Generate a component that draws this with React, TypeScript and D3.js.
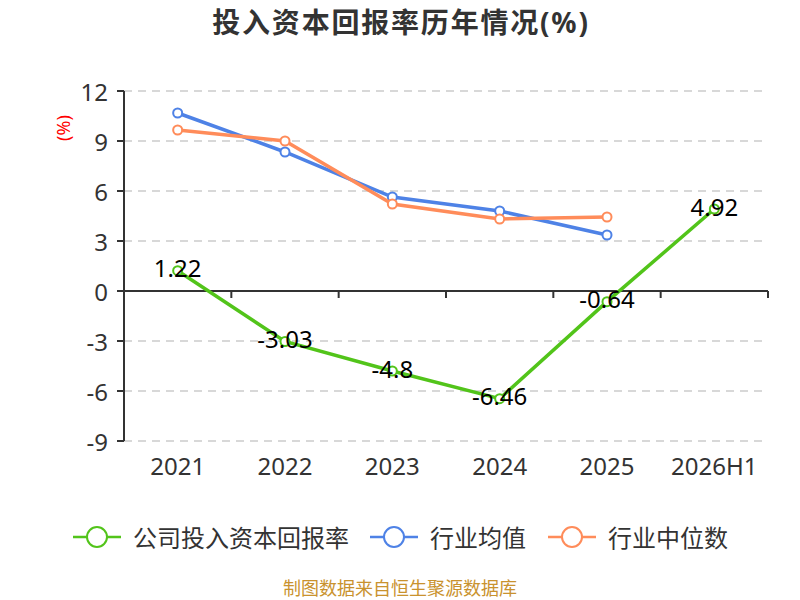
import React from 'react';
import * as d3 from 'd3';

const categories = ['2021', '2022', '2023', '2024', '2025', '2026H1'];
const companyRoic = [1.22, -3.03, -4.8, -6.46, -0.64, 4.92];
const industryAvg = [10.68, 8.34, 5.64, 4.8, 3.36];
const industryMedian = [9.66, 9.0, 5.22, 4.32, 4.44];
const yTicks = [12, 9, 6, 3, 0, -3, -6, -9];

const series = [
  { name: '公司投入资本回报率', color: '#52c41a', values: companyRoic, labels: true },
  { name: '行业均值', color: '#4e82e6', values: industryAvg, labels: false },
  { name: '行业中位数', color: '#ff8c5a', values: industryMedian, labels: false },
];

const FONT = '"Noto Sans", "Noto Sans CJK SC", sans-serif';

const App: React.FC = () => {
  const [w, h] = [800, 600];
  const margin = { top: 91, right: 32, bottom: 159, left: 124 };
  const x = d3.scaleBand<string>().domain(categories).range([margin.left, w - margin.right]);
  const y = d3.scaleLinear().domain([-9, 12]).range([h - margin.bottom, margin.top]);
  const cx = (c: string) => (x(c) as number) + x.bandwidth() / 2;
  const line = d3.line<number>().x((_, i) => cx(categories[i])).y(d => y(d));
  const bounds = [...categories.map(c => x(c) as number), w - margin.right];
  const legendX = [73, 370, 548];

  return (
    <div style={{ position: 'absolute', left: 0, top: 0 }}>
      <svg width={w} height={h} viewBox={`0 0 ${w} ${h}`} style={{ display: 'block', fontFamily: FONT }}>
        <rect width={w} height={h} fill="#fff" />
        <text x={401} y={22} textAnchor="middle" dominantBaseline="central" fontSize={28} fontWeight="bold" fill="#333" letterSpacing={1.8}>
          投入资本回报率历年情况(%)
        </text>
        <text transform={`translate(63,128) rotate(-90)`} textAnchor="middle" dominantBaseline="central" fontSize={18} fill="#ff0000">
          (%)
        </text>

        {yTicks.filter(t => t !== 0).map(t => (
          <line key={t} x1={margin.left} x2={w - margin.right} y1={y(t)} y2={y(t)} stroke="#ccc" strokeWidth={1.5} strokeDasharray="8,6" />
        ))}
        {yTicks.map(t => (
          <g key={'yt' + t}>
            <line x1={margin.left - 7} x2={margin.left} y1={y(t)} y2={y(t)} stroke="#333" strokeWidth={2} />
            <text x={margin.left - 16} y={y(t)} textAnchor="end" dominantBaseline="central" fontSize={24} fill="#333">{t}</text>
          </g>
        ))}
        <line x1={margin.left} x2={margin.left} y1={y(12)} y2={y(-9)} stroke="#333" strokeWidth={2} />
        <line x1={margin.left} x2={w - margin.right} y1={y(0)} y2={y(0)} stroke="#333" strokeWidth={2} />
        {bounds.slice(1).map((b, i) => (
          <line key={'xt' + i} x1={b} x2={b} y1={y(0)} y2={y(0) + 7} stroke="#333" strokeWidth={2} />
        ))}
        {categories.map(c => (
          <text key={c} x={cx(c)} y={465} textAnchor="middle" dominantBaseline="central" fontSize={24} fill="#333">{c}</text>
        ))}

        {series.map(s => (
          <g key={s.name}>
            <path d={line(s.values) as string} fill="none" stroke={s.color} strokeWidth={3.5} />
            {s.values.map((v, i) => (
              <circle key={i} cx={cx(categories[i])} cy={y(v)} r={4.5} fill="#fff" stroke={s.color} strokeWidth={2} />
            ))}
            {s.labels && s.values.map((v, i) => (
              <text key={'l' + i} x={cx(categories[i])} y={y(v) - 3} textAnchor="middle" dominantBaseline="central" fontSize={24} fill="#000">{v}</text>
            ))}
          </g>
        ))}

        {series.map((s, i) => (
          <g key={'lg' + i} transform={`translate(${legendX[i]},537)`}>
            <line x1={0} x2={48} y1={0} y2={0} stroke={s.color} strokeWidth={2.5} />
            <circle cx={24} cy={0} r={10} fill="#fff" stroke={s.color} strokeWidth={2} />
            <text x={60} y={0} dominantBaseline="central" fontSize={24} fill="#333">{s.name}</text>
          </g>
        ))}

        <text x={400} y={588} textAnchor="middle" dominantBaseline="central" fontSize={18} fill="#c9922e">
          制图数据来自恒生聚源数据库
        </text>
      </svg>
    </div>
  );
};

export default App;
